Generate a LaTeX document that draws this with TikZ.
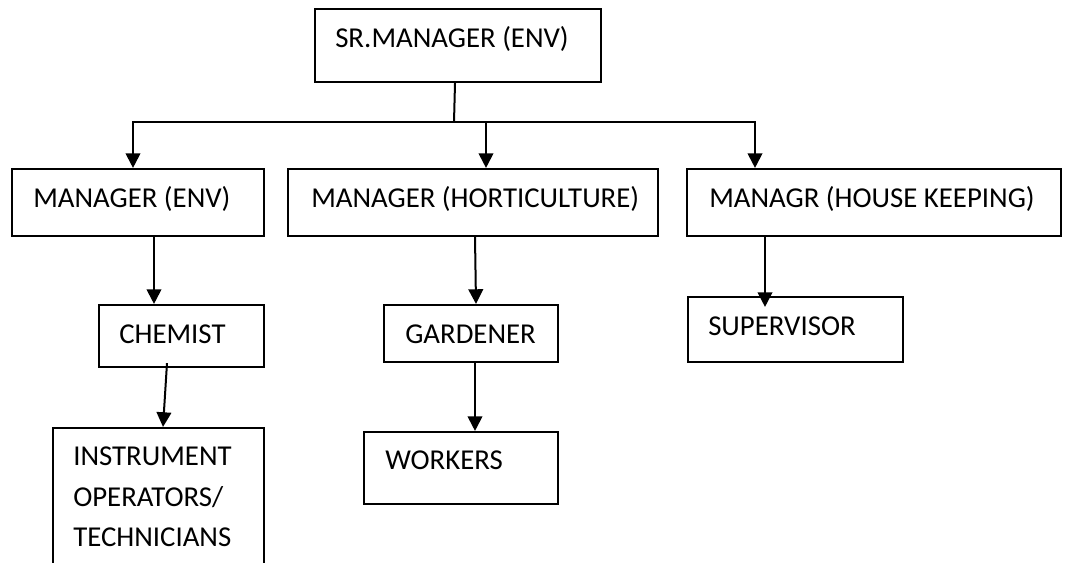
\documentclass[tikz,border=0pt]{standalone}
\usepackage{fontspec}
\setmainfont{Carlito}
\usetikzlibrary{arrows.meta,fit}
\begin{document}
\begin{tikzpicture}[x=0.75pt,y=-0.75pt,
  box/.style={draw=black,line width=1.6pt,rectangle,inner sep=0pt},
  lbl/.style={anchor=base west,inner sep=0pt,font=\fontsize{21.6}{30.4}\selectfont},
  link/.style={line width=1.5pt,line join=miter},
  arr/.style={link,-{Triangle[length=11pt,width=11pt]}}]
\useasboundingbox (0,0) rectangle (1066,562);
\clip (0,0) rectangle (1066,562);
\fill[white] (0,0) rectangle (1066,562);

% boxes
\node[box,fit={(315,9) (601,82)}]    (sr)   {};
\node[box,fit={(12,169) (264,236)}]  (env)  {};
\node[box,fit={(288,169) (658,236)}] (hort) {};
\node[box,fit={(687,169) (1061,236)}] (hk)  {};
\node[box,fit={(99,305) (264,367)}]  (chem) {};
\node[box,fit={(384,305) (558,362)}] (gard) {};
\node[box,fit={(688,297) (903,362)}] (sup)  {};
\node[box,fit={(53,428) (264,580)}]  (inst) {};
\node[box,fit={(364,432) (558,504)}] (work) {};

% labels
\node[lbl] (srT)   at (335,47)  {SR.MANAGER (ENV)};
\node[lbl] (envT)  at (33,207)  {MANAGER (ENV)};
\node[lbl] (hortT) at (311,207) {MANAGER (HORTICULTURE)};
\node[lbl] (hkT)   at (709,207) {MANAGR (HOUSE KEEPING)};
\node[lbl] (chemT) at (119,343) {CHEMIST};
\node[lbl] (gardT) at (405,343) {GARDENER};
\node[lbl] (supT)  at (708,335) {SUPERVISOR};
\node[lbl] (workT) at (385,469) {WORKERS};
\node[lbl,anchor=north west,align=left] (instT) at (73,446.5)
  {INSTRUMENT\\OPERATORS/\\TECHNICIANS};

% distribution bus under the senior manager
\coordinate (busL) at (133,122);
\coordinate (busJ) at (454,122);
\coordinate (busM) at (486,122);
\coordinate (busR) at (755,122);
\draw[link] ([shift={(-3,0)}]sr.south) -- (busJ);
\draw[link,{Triangle[length=11pt,width=11pt]}-{Triangle[length=11pt,width=11pt]}]
  (env.north -| busL) -- (busL) -- (busR) -- (hk.north -| busR);
\draw[arr] (busM) -- (hort.north -| busM);

% lower levels
\draw[arr] ([shift={(16,0)}]env.south) -- ([shift={(-27.5,0)}]chem.north);
\draw[arr] ([shift={(-14.5,-5)}]chem.south) -- ([shift={(4.5,0)}]inst.north);
\draw[arr] ([shift={(2,0)}]hort.south) -- ([shift={(5,0)}]gard.north);
\draw[arr] ([shift={(4,0)}]gard.south) -- ([shift={(14,0)}]work.north);
\draw[arr] ([shift={(-109,0)}]hk.south) -- ([shift={(-30.5,11)}]sup.north);
\end{tikzpicture}
\end{document}
